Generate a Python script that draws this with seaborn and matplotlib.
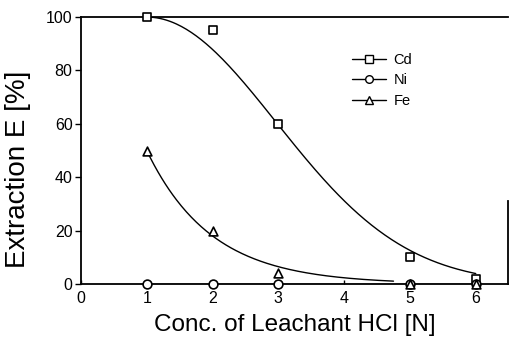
import numpy as np
import pandas as pd
import matplotlib
matplotlib.use("Agg")
import matplotlib.pyplot as plt
from matplotlib.lines import Line2D
import seaborn as sns

# Measured extraction vs. leachant concentration
conc = [1, 2, 3, 5, 6]
cd = [100, 95, 60, 10, 2]
ni = [0, 0, 0, 0, 0]
fe = [50, 20, 4, 0, 0]

x_ticks = [0, 1, 2, 3, 4, 5, 6]
y_ticks = [0, 20, 40, 60, 80, 100]

sns.set_theme(style="white")
plt.rcParams["font.family"] = ["Liberation Sans", "DejaVu Sans"]
plt.rcParams["text.color"] = "black"
plt.rcParams["axes.labelcolor"] = "black"

x = np.asarray(conc, float)

# Trend curves: Gaussian decay for Cd, exponential decay for Fe (least squares)
def fit_gauss(xv, yv):
    best = None
    for s in np.linspace(1.0, 6.0, 501):
        pred = yv[0] * np.exp(-((xv - xv[0]) / s) ** 2)
        err = np.sum((pred - yv) ** 2)
        if best is None or err < best[0]:
            best = (err, s)
    return best[1]

def fit_exp(xv, yv):
    best = None
    for k in np.linspace(0.1, 3.0, 581):
        pred = yv[0] * np.exp(-k * (xv - xv[0]))
        err = np.sum((pred - yv) ** 2)
        if best is None or err < best[0]:
            best = (err, k)
    return best[1]

s_cd = fit_gauss(x, np.asarray(cd, float))
k_fe = fit_exp(x, np.asarray(fe, float))

xc = np.linspace(conc[0], conc[-1], 200)
xf = np.linspace(conc[0], 4.75, 200)
curve_cd = pd.DataFrame({"x": xc, "y": cd[0] * np.exp(-((xc - conc[0]) / s_cd) ** 2)})
curve_fe = pd.DataFrame({"x": xf, "y": fe[0] * np.exp(-k_fe * (xf - conc[0]))})
curve_ni = pd.DataFrame({"x": conc, "y": ni})

fig = plt.figure(figsize=(5.09, 3.41), dpi=100)
ax = fig.add_axes([0.159, 0.167, 0.839, 0.783])

for df in (curve_cd, curve_fe, curve_ni):
    sns.lineplot(data=df, x="x", y="y", ax=ax, color="black", lw=1.0,
                 zorder=3, legend=False)

pts = [(cd, "s"), (ni, "o"), (fe, "^")]
for vals, mk in pts:
    sns.scatterplot(x=conc, y=vals, ax=ax, marker=mk, s=40,
                    facecolor="white", edgecolor="black", linewidth=1.2,
                    zorder=5, legend=False, clip_on=False)

ax.set_xlim(0, 6.49)
ax.set_ylim(0, 100)
ax.set_xticks(x_ticks)
ax.set_yticks(y_ticks)
ax.tick_params(axis="y", direction="out", length=4, width=1, colors="black",
               labelsize=11.5, pad=2, left=True)
ax.tick_params(axis="x", direction="in", length=3, width=1, colors="black",
               labelsize=11.5, pad=5, bottom=True)

for side in ["left", "bottom", "top", "right"]:
    ax.spines[side].set_visible(True)
    ax.spines[side].set_color("black")
    ax.spines[side].set_linewidth(1.3)
ax.spines["right"].set_bounds(0, 31)

ax.set_xlabel("Conc. of Leachant HCl [N]", fontsize=17.5, labelpad=6)
ax.set_ylabel("Extraction E [%]", fontsize=20)
ax.yaxis.set_label_coords(-0.117, 0.43)

handles = [
    Line2D([], [], color="black", lw=1, marker="s", markersize=5.5,
           markerfacecolor="white", markeredgecolor="black"),
    Line2D([], [], color="black", lw=1, marker="o", markersize=5.5,
           markerfacecolor="white", markeredgecolor="black"),
    Line2D([], [], color="black", lw=1, marker="^", markersize=5.5,
           markerfacecolor="white", markeredgecolor="black"),
]
ax.legend(handles, ["Cd", "Ni", "Fe"], loc="upper left",
          bbox_to_anchor=(0.605, 0.915), frameon=False, fontsize=10.5,
          handlelength=2.3, handletextpad=0.5, labelspacing=0.45)

fig.savefig("out.png", dpi=100)
